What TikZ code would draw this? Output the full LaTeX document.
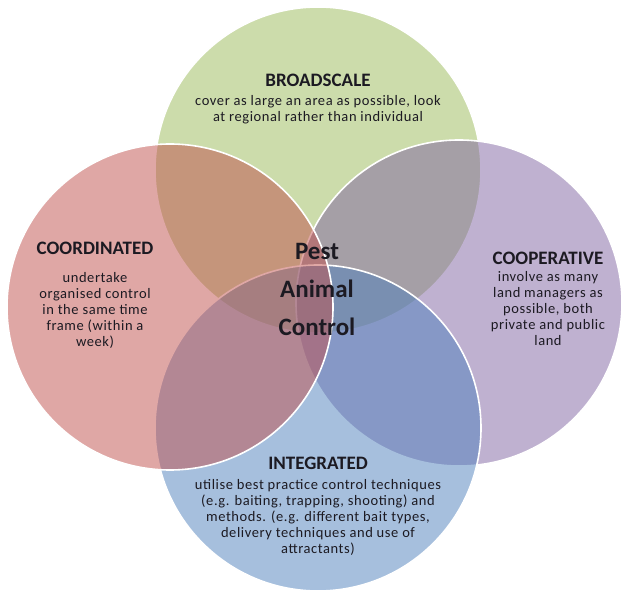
\documentclass[tikz,border=0pt]{standalone}
\usepackage{fontspec}
\newfontfamily\carl{Carlito}
\newfontfamily\carlwide[LetterSpace=4]{Carlito}
\definecolor{cgreen}{HTML}{9BBB59}
\definecolor{cred}{HTML}{C0504D}
\definecolor{cpurple}{HTML}{8064A2}
\definecolor{cblue}{HTML}{4F81BD}
\definecolor{ink}{HTML}{1C1A22}
\begin{document}
\begin{tikzpicture}[x=1pt,y=-1pt,
  venn/.style={circle, minimum size=326pt, inner sep=0pt, fill opacity=0.5, draw=white, draw opacity=1, line width=1.6pt},
  title/.style={text=ink, font=\carl\bfseries\fontsize{19}{22}\selectfont, inner sep=0pt},
  desc/.style={text=ink, align=center, font=\carlwide\fontsize{14.5}{16}\selectfont, inner sep=0pt},
  core/.style={text=ink, align=center, font=\carl\bfseries\fontsize{25}{38}\selectfont, inner sep=0pt}]
\fill[white] (0,0) rectangle (625,599);
\useasboundingbox (0,0) rectangle (625,599);
% circles in drawing order: top, right, bottom, left
\node[venn, fill=cgreen]  (broad) at (318,170) {};
\node[venn, fill=cpurple] (coop)  at (459,303) {};
\node[venn, fill=cblue]   (integ) at (318,428) {};
\node[venn, fill=cred]    (coord) at (170,307) {};
% texts
\node[title] (tbroad) at (318,80) {BROADSCALE};
\node[desc]  (dbroad) at (318,110) {cover as large an area as possible, look\\at regional rather than individual};
\node[title] (tcoord) at (95,248) {COORDINATED};
\node[desc]  (dcoord) at (95,310) {undertake\\organised control\\in the same time\\frame (within a\\week)};
\node[title] (tcoop) at (548,258) {COOPERATIVE};
\node[desc]  (dcoop) at (548,309) {involve as many\\land managers as\\possible, both\\private and public\\land};
\node[title] (tinteg) at (318,463) {INTEGRATED};
\node[desc]  (dinteg) at (318,517) {utilise best practice control techniques\\(e.g. baiting, trapping, shooting) and\\methods. (e.g. different bait types,\\delivery techniques and use of\\attractants)};
\node[core]  (pac) at (317,289) {Pest\\Animal\\Control};
\end{tikzpicture}
\end{document}
